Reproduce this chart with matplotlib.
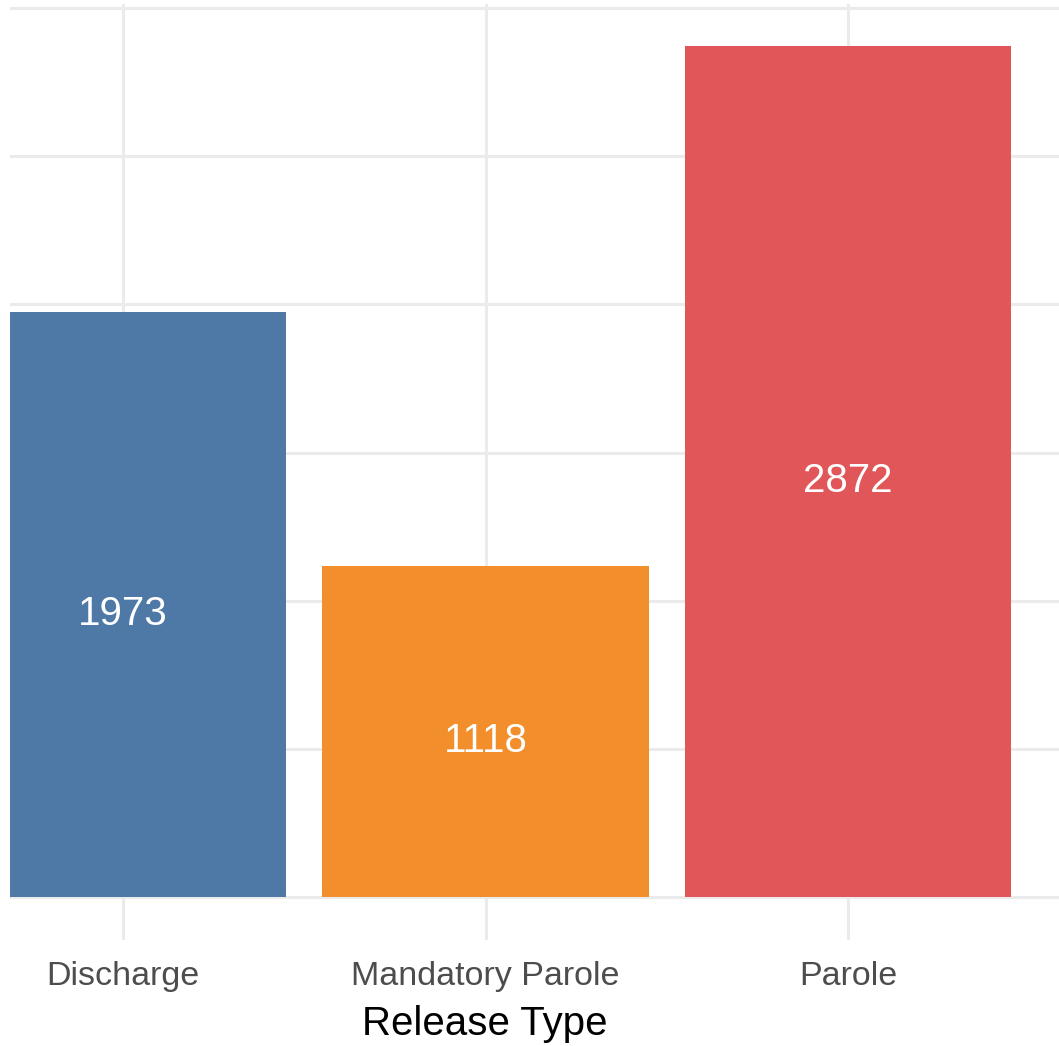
import matplotlib
matplotlib.use("Agg")
import matplotlib.pyplot as plt
from matplotlib.transforms import offset_copy

categories = ["Discharge", "Mandatory Parole", "Parole"]
counts = [1973, 1118, 2872]
colors = ["#4E79A7", "#F28E2B", "#E15759"]
yticks = [0, 500, 1000, 1500, 2000, 2500, 3000]

plt.rcParams['font.family'] = ['Liberation Sans', 'DejaVu Sans']

W, H = 1059, 1046
fig = plt.figure(figsize=(W / 100, H / 100), dpi=100)
left_px, top_px, bottom_px = 10, 3.5, 939.5
ax = fig.add_axes([left_px / W, (H - bottom_px) / H, 1 - left_px / W, (bottom_px - top_px) / H])

x = list(range(1, len(categories) + 1))
ax.bar(x, counts, width=0.9, color=colors, zorder=2)
shifted = offset_copy(ax.transData, fig=fig, x=0, y=-4, units='points')
for xi, c in zip(x, counts):
    ax.text(xi, c / 2, str(c), ha='center', va='center_baseline', color='white',
            fontsize=29, zorder=3, transform=shifted)

ax.set_xlim(0.688, 3.582)
ax.set_ylim(-143.6, 3015.6)
ax.set_yticks(yticks)
ax.set_xticks(x)
ax.set_xticklabels(categories, fontsize=24.5, color='#4D4D4D')
ax.tick_params(axis='x', length=0, pad=15.5)
ax.tick_params(axis='y', length=0, labelleft=False)
ax.grid(True, color='#EBEBEB', linewidth=2.2, zorder=0)
ax.set_axisbelow(True)
for s in ax.spines.values():
    s.set_visible(False)

fig.text(485 / W, 1 - 1024 / H, "Release Type", fontsize=29, color='black',
         ha='center', va='center')

fig.savefig("out.png", dpi=100)
